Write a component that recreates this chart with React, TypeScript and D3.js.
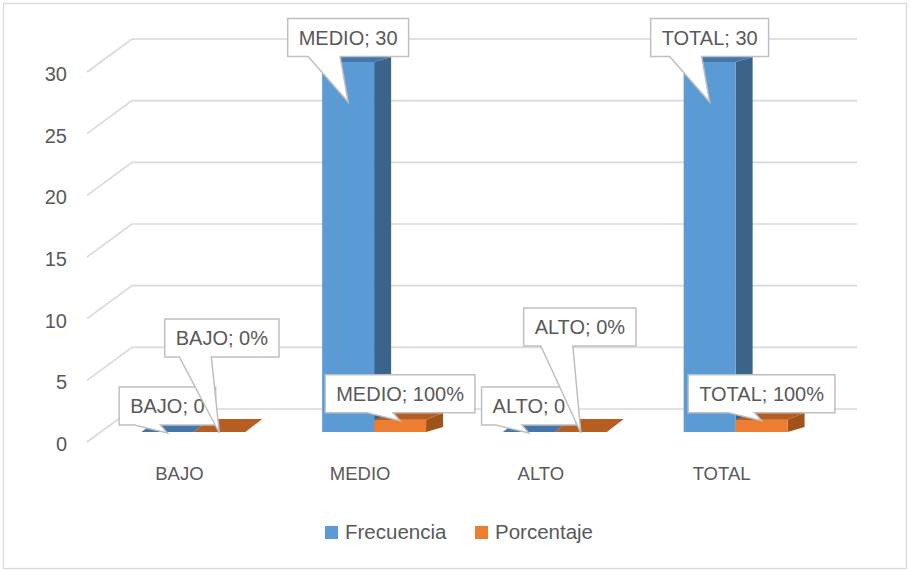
import React, { useMemo } from 'react';
import * as d3 from 'd3';

// ---- data ----
const categories = ['BAJO', 'MEDIO', 'ALTO', 'TOTAL'];
const seriesNames = ['Frecuencia', 'Porcentaje'];
const frecuencia = [0, 30, 0, 30];
const porcentaje = [0, 1, 0, 1]; // 0% / 100% plotted on the 0–30 axis
const frecuenciaLabels = ['0', '30', '0', '30'];
const porcentajeLabels = ['0%', '100%', '0%', '100%'];
const yTicks = [0, 5, 10, 15, 20, 25, 30];

// ---- layout / style ----
const W = 911;
const H = 571;
const FONT = "'Liberation Sans', Arial, sans-serif";
const TEXT = '#595959';
const GRID = '#d9d9d9';
const colors = {
  Frecuencia: { front: '#5b9bd5', top: '#4576a9', side: '#3a6489' },
  Porcentaje: { front: '#ed7d31', top: '#b65e22', side: '#a0521b' },
};
const backLeft = 132;
const gridRight = 857;
const wallDy = -23; // back wall relative to bar plane
const frontDx = -45; // front edge relative to back wall
const frontDy = 33;
const depthDx = 17;
const sideBottomDy = 5;
// callout placement (layout only)
const boxDyBlue = [-26, -24.5, -26, -24.5];
const tipDyBlue = [1, 40, 1, 40];
const boxDyOrange = [-94, -26, -105, -26];
const boxDxOrange = [2.5, 0, -1, 0];
const tipDyOrange = [1, 1, 1, 1];

const x0 = d3.scaleBand<string>().domain(categories).range([103, 826]).paddingInner(0.425).paddingOuter(0.2125);
const x1 = d3.scaleBand<string>().domain(seriesNames).range([0, x0.bandwidth()]);
const y = d3.scaleLinear().domain([0, 30]).range([432, 62]);
const topDy = d3.scaleLinear().domain([0, 1, 30]).range([13, 7, 5]).clamp(true);

function measure(text: string, size: number) {
  const c = document.createElement('canvas').getContext('2d');
  if (!c) return text.length * size * 0.55;
  c.font = `${size}px 'Liberation Sans', Arial, sans-serif`;
  return c.measureText(text).width;
}

type Callout = { text: string; cx: number; cy: number; tx: number; ty: number; w: number };

export default function App() {
  const series = [
    { name: 'Frecuencia', values: frecuencia, labels: frecuenciaLabels },
    { name: 'Porcentaje', values: porcentaje, labels: porcentajeLabels },
  ];

  const callouts = useMemo(() => {
    const out: Callout[] = [];
    series.forEach((s, si) => {
      categories.forEach((c, i) => {
        const bx = (x0(c) as number) + (x1(s.name) as number) + x1.bandwidth() / 2;
        const by = y(s.values[i]);
        const text = `${c}; ${s.labels[i]}`;
        const w = measure(text, 20) + 22;
        if (si === 0) {
          out.push({ text, cx: bx, cy: by + boxDyBlue[i], tx: bx, ty: by + tipDyBlue[i], w });
        } else {
          out.push({ text, cx: bx + boxDxOrange[i], cy: by + boxDyOrange[i], tx: bx, ty: by + tipDyOrange[i], w });
        }
      });
    });
    return out;
  }, []);

  const boxH = 38;

  const calloutPath = (d: Callout) => {
    const l = d.cx - d.w / 2;
    const r = d.cx + d.w / 2;
    const t = d.cy - boxH / 2;
    const b = d.cy + boxH / 2;
    const long = d.ty - b > 20;
    let bl = d.tx - (long ? 40 : 33);
    let br = d.tx - (long ? 8 : 7);
    bl = Math.max(l + 2, bl);
    br = Math.min(r - 2, br);
    return `M${l},${t}L${r},${t}L${r},${b}L${br},${b}L${d.tx},${d.ty}L${bl},${b}L${l},${b}Z`;
  };

  return (
    <svg width={W} height={H} style={{ position: 'absolute', left: 0, top: 0, background: '#fff' }} fontFamily={FONT}>
      <rect x={3.5} y={3.5} width={903} height={565} fill="#fff" stroke={GRID} strokeWidth={1.3} />

      {/* gridlines with perspective floor edge */}
      {yTicks.map((t) => {
        const yb = y(t) + wallDy;
        return (
          <path
            key={t}
            d={`M${backLeft + frontDx},${yb + frontDy}L${backLeft},${yb}L${gridRight},${yb}`}
            fill="none"
            stroke={GRID}
            strokeWidth={1.6}
          />
        );
      })}

      {/* tick labels */}
      {yTicks.map((t) => (
        <text key={t} x={67} y={y(t) + wallDy + frontDy + 2} textAnchor="end" dominantBaseline="central" fontSize={20} fill={TEXT}>
          {t}
        </text>
      ))}

      {/* 3D bars */}
      {categories.map((c, i) => (
        <g key={c}>
          {series.map((s) => {
            const col = (colors as any)[s.name];
            const xa = (x0(c) as number) + (x1(s.name) as number);
            const xb = xa + x1.bandwidth();
            const v = s.values[i];
            const yt = y(v);
            const yBase = y(0);
            const dy = topDy(v);
            return (
              <g key={s.name}>
                {v > 0 && (
                  <path
                    d={`M${xb},${yt}L${xb + depthDx},${yt - dy}L${xb + depthDx},${yBase - sideBottomDy}L${xb},${yBase}Z`}
                    fill={col.side}
                  />
                )}
                {v > 0 && <rect x={xa} y={yt} width={xb - xa} height={yBase - yt} fill={col.front} />}
                <path
                  d={`M${xa},${yt}L${xb},${yt}L${xb + depthDx},${yt - dy}L${xa + depthDx},${yt - dy}Z`}
                  fill={col.top}
                />
              </g>
            );
          })}
        </g>
      ))}

      {/* category labels */}
      {categories.map((c) => (
        <text key={c} x={(x0(c) as number) + x0.bandwidth() / 2 - 14} y={480} textAnchor="middle" fontSize={18.5} fill={TEXT}>
          {c}
        </text>
      ))}

      {/* callouts */}
      {callouts.map((d, k) => (
        <g key={k}>
          <path d={calloutPath(d)} fill="#fff" stroke="#bfbfbf" strokeWidth={1.5} />
          <text x={d.cx} y={d.cy} textAnchor="middle" dominantBaseline="central" fontSize={20} fill={TEXT}>
            {d.text}
          </text>
        </g>
      ))}

      {/* legend */}
      {seriesNames.map((n, k) => {
        const lx = k === 0 ? 325 : 475;
        return (
          <g key={n}>
            <rect x={lx} y={526} width={13} height={13} fill={(colors as any)[n].front} />
            <text x={lx + 20} y={539} fontSize={20.5} fill={TEXT}>
              {n}
            </text>
          </g>
        );
      })}
    </svg>
  );
}
